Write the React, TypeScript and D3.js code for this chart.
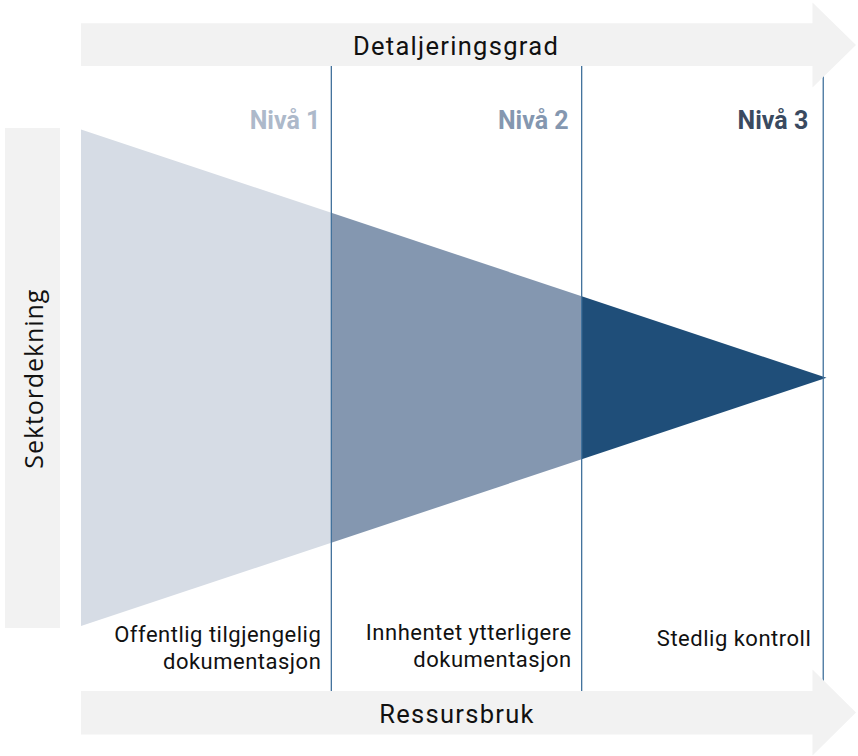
import React from "react";
import * as d3 from "d3";

// ---- data ----
const levels = ["Nivå 1", "Nivå 2", "Nivå 3"];
const levelColors = ["#adb9ca", "#8497b0", "#3a4a60"];
const segmentColors = ["#d6dce5", "#8497b0", "#1f4e79"];
// detail-degree positions of the triangle breakpoints and sector coverage there
const detailPoints = [0, 1, 2, 2.978];
const coverage = [1.0, 0.665, 0.328, 0];
// divider lines (end of each level)
const levelEnds = [1, 2, 2.965];
const descriptions = [
  ["Offentlig tilgjengelig", "dokumentasjon"],
  ["Innhentet ytterligere", "dokumentasjon"],
  ["Stedlig kontroll"],
];
const topAxisLabel = "Detaljeringsgrad";
const bottomAxisLabel = "Ressursbruk";
const leftAxisLabel = "Sektordekning";

const W = 858;
const H = 756;

export default function App() {
  const x = d3.scaleLinear().domain([0, 3]).range([81, 832]);
  const yc = 377.75;
  const half = d3.scaleLinear().domain([0, 1]).range([0, 248.25]);

  const segs = levels.map((_, i) => {
    const d0 = detailPoints[i];
    const d1 = detailPoints[i + 1];
    const c0 = coverage[i];
    const c1 = coverage[i + 1];
    const pts: [number, number][] = [
      [x(d0), yc - half(c0)],
      [x(d1), yc - half(c1)],
      [x(d1), yc + half(c1)],
      [x(d0), yc + half(c0)],
    ];
    return d3.line()(pts) + "Z";
  });

  const arrow = (yTop: number, yBot: number, headTop: number, headBot: number) => {
    const x0 = 81, xh = 812.5, xt = 856;
    const ym = (headTop + headBot) / 2;
    const pts: [number, number][] = [
      [x0, yTop], [xh, yTop], [xh, headTop], [xt, ym], [xh, headBot], [xh, yBot], [x0, yBot],
    ];
    return d3.line()(pts) + "Z";
  };

  const font = "Roboto, 'DejaVu Sans', sans-serif";

  return (
    <svg width={W} height={H} style={{ position: "absolute", left: 0, top: 0, background: "#fff" }}>
      {/* left bar */}
      <rect x={5} y={128} width={55} height={500} fill="#f2f2f2" />
      <text
        transform={`translate(43,${yc + 1}) rotate(-90)`}
        textAnchor="middle"
        fontFamily="'Open Sans', sans-serif"
        fontSize={25}
        letterSpacing={0.9}
        fill="#111"
      >
        {leftAxisLabel}
      </text>

      {/* triangle segments */}
      {segs.map((d, i) => (
        <path key={i} d={d} fill={segmentColors[i]} />
      ))}

      {/* divider lines */}
      {levelEnds.map((v, i) => (
        <line key={i} x1={x(v)} x2={x(v)} y1={66} y2={691} stroke="#41719c" strokeWidth={1.3} />
      ))}

      {/* arrows */}
      <path d={arrow(23.3, 66, 2.5, 87.5)} fill="#f2f2f2" />
      <path d={arrow(691, 734.5, 669.5, 755.5)} fill="#f2f2f2" />
      <text x={456} y={55} textAnchor="middle" fontFamily={font} fontSize={25.5} fill="#111" letterSpacing={1.3}>
        {topAxisLabel}
      </text>
      <text x={457} y={723} textAnchor="middle" fontFamily={font} fontSize={25.5} fill="#111" letterSpacing={1.3}>
        {bottomAxisLabel}
      </text>

      {/* level labels */}
      {levels.map((l, i) => (
        <text
          key={l}
          x={x(levelEnds[i]) - 11 - i * 2}
          y={129}
          textAnchor="end"
          fontFamily={font}
          fontWeight="bold"
          fontSize={25}
          fill={levelColors[i]}
        >
          {l}
        </text>
      ))}

      {/* descriptions */}
      {descriptions.map((lines, i) =>
        lines.map((t, j) => (
          <text
            key={i + "-" + j}
            x={x(levelEnds[i]) - 10 - (i === 2 ? 2 : 0)}
            y={lines.length === 1 ? 646 : 642 - i * 2 + j * 27}
            textAnchor="end"
            fontFamily={font}
            fontSize={22}
            letterSpacing={0.5}
            fill="#111"
          >
            {t}
          </text>
        ))
      )}
    </svg>
  );
}
